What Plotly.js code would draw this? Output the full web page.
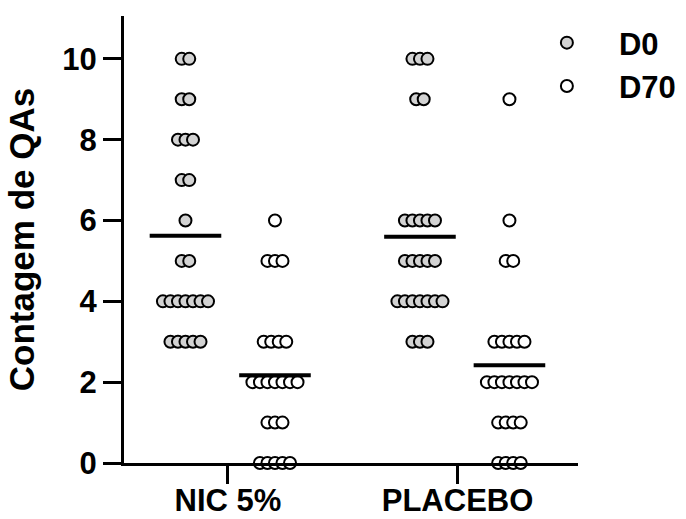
<!DOCTYPE html>
<html>
<head>
<meta charset="utf-8">
<script src="https://cdn.plot.ly/plotly-3.0.1.min.js"></script>
<style>html,body{margin:0;padding:0;background:#fff;}#chart{width:686px;height:519px;}</style>
</head>
<body>
<div id="chart"></div>
<script>
// ---- data ----
const groups = ["NIC 5%", "PLACEBO"];
const seriesNames = ["D0", "D70"];
const nicD0 = [10,10,9,9,8,8,8,7,7,6,5,5,4,4,4,4,4,4,4,3,3,3,3,3];
const nicD70 = [6,5,5,5,3,3,3,3,2,2,2,2,2,2,2,1,1,1,0,0,0,0,0];
const placeboD0 = [10,10,10,9,9,6,6,6,6,6,5,5,5,5,5,4,4,4,4,4,4,4,3,3,3];
const placeboD70 = [9,6,5,5,3,3,3,3,3,2,2,2,2,2,2,2,1,1,1,1,0,0,0,0];
const yTicks = [0,2,4,6,8,10];

// ---- layout helpers ----
const pos = {nicD0:0, nicD70:1, placeboD0:2.62, placeboD70:3.62};
const groupTickPos = [0.475, 3.04];
const spacing = 0.084;
const fontFam = "Liberation Sans, Arial, sans-serif";

function swarm(values, center){
  const counts = {};
  values.forEach(v => counts[v] = (counts[v]||0)+1);
  const seen = {};
  return values.map(v => {
    const k = counts[v];
    const i = seen[v] = (seen[v]===undefined ? 0 : seen[v]+1);
    return center + (i - (k-1)/2)*spacing;
  });
}
const mean = a => a.reduce((s,v)=>s+v,0)/a.length;

function pts(values, center, fill, name, show){
  return {
    type:'scatter', mode:'markers', x: swarm(values, center), y: values,
    name: name, showlegend: show, legendgroup: name, cliponaxis:false,
    marker:{size:12, color:fill, line:{color:'#000', width:2}},
    hoverinfo:'y'
  };
}
function meanLine(values, center){
  const m = mean(values);
  return {type:'scatter', mode:'lines', x:[center-0.4, center+0.4], y:[m,m],
    line:{color:'#000', width:4}, showlegend:false, hoverinfo:'skip', cliponaxis:false};
}
const grey = '#d3d3d3', white = '#ffffff';
const data = [
  pts(nicD0, pos.nicD0, grey, seriesNames[0], true),
  pts(nicD70, pos.nicD70, white, seriesNames[1], true),
  pts(placeboD0, pos.placeboD0, grey, seriesNames[0], false),
  pts(placeboD70, pos.placeboD70, white, seriesNames[1], false),
  meanLine(nicD0, pos.nicD0),
  meanLine(nicD70, pos.nicD70),
  meanLine(placeboD0, pos.placeboD0),
  meanLine(placeboD70, pos.placeboD70)
];

const layout = {
  width:686, height:519,
  margin:{l:124, r:108, t:16, b:56, pad:0, autoexpand:false},
  paper_bgcolor:'#fff', plot_bgcolor:'#fff',
  font:{family:fontFam, color:'#000', size:31, weight:'bold'},
  showlegend:true,
  legend:{x:0.861, y:1.0, xanchor:'left', yanchor:'top', font:{size:31, weight:'bold', family:fontFam},
    itemwidth:94, bgcolor:'rgba(0,0,0,0)', tracegroupgap:0},
  xaxis:{range:[-0.687, 4.386], showgrid:false, zeroline:false, showline:true, linecolor:'#000', linewidth:3,
    ticks:'outside', ticklen:18, tickwidth:3, tickcolor:'#000', tickmode:'array', ticklabelstandoff:-10,
    tickvals:groupTickPos, ticktext:groups, tickfont:{size:31, weight:'bold', family:fontFam}},
  yaxis:{range:[0, 11.06], showgrid:false, zeroline:false, showline:true, linecolor:'#000', linewidth:3,
    ticks:'outside', ticklen:18, tickwidth:3, tickcolor:'#000', tickmode:'array', tickvals:yTicks,
    tickfont:{size:31, weight:'bold', family:fontFam},
    title:{text:'Contagem de QAs', font:{size:35, weight:'bold', family:fontFam}, standoff:18}}
};
Plotly.newPlot('chart', data, layout, {displayModeBar:false, staticPlot:true});
</script>
</body>
</html>
